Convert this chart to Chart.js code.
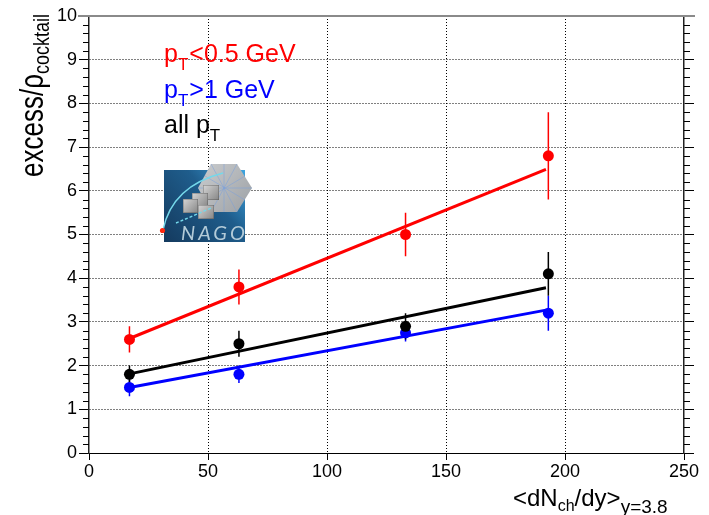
<!DOCTYPE html>
<html>
<head>
<meta charset="utf-8">
<script src="https://cdn.jsdelivr.net/npm/chart.js@4/dist/chart.umd.min.js"></script>
<style>
  html, body { margin: 0; padding: 0; background: #fff; }
  canvas { display: block; }
</style>
</head>
<body>
<canvas id="chart" width="709" height="515"></canvas>
<script>
// Charged-particle multiplicity <dN_ch/dy> of each centrality bin
const multiplicity = [17, 63, 133, 193];

// excess / rho_cocktail and its uncertainty, per pT selection
const excessLowPt  = [2.6, 3.8, 5.0, 6.8];
const errLowPt     = [0.3, 0.4, 0.5, 1.0];
const excessHighPt = [1.5, 1.8, 2.75, 3.2];
const errHighPt    = [0.2, 0.2, 0.2, 0.4];
const excessAllPt  = [1.8, 2.5, 2.9, 4.1];
const errAllPt     = [0.2, 0.3, 0.3, 0.5];

// linear fits, evaluated at both ends of the fitted range
const fitRange   = [17, 192];
const fitLowPt   = [2.62, 6.49];
const fitHighPt  = [1.50, 3.27];
const fitAllPt   = [1.81, 3.78];

// axis ticks
const xTicks = [0, 50, 100, 150, 200, 250];
const yTicks = [0, 1, 2, 3, 4, 5, 6, 7, 8, 9, 10];

const RED = '#ff0000', BLUE = '#0000ff', BLACK = '#000000';
const FONT = "'Liberation Sans', Arial, Helvetica, sans-serif";

const toPoints = (xs, ys) => xs.map((x, i) => ({ x, y: ys[i] }));

function pointSet(label, values, color, order) {
  return {
    type: 'scatter', label, order,
    data: toPoints(multiplicity, values),
    pointRadius: 5.5, pointHoverRadius: 5.5,
    pointBackgroundColor: color, pointBorderWidth: 0,
    showLine: false
  };
}
function fitSet(label, values, color, order) {
  return {
    type: 'line', label, order,
    data: toPoints(fitRange, values),
    borderColor: color, borderWidth: 3,
    pointRadius: 0, tension: 0, fill: false
  };
}

// draws a run of text pieces; each piece may be shifted (subscripts)
function drawRich(ctx, x, y, parts) {
  let cx = x;
  for (const p of parts) {
    ctx.font = p.size + 'px ' + FONT;
    ctx.fillText(p.t, cx, y + (p.dy || 0));
    cx += ctx.measureText(p.t).width + (p.gap || 0);
  }
}

const minorTicks = {
  id: 'minorTicks',
  afterDraw(chart) {
    const { ctx, chartArea: a } = chart;
    const y = chart.scales.y;
    ctx.save();
    ctx.strokeStyle = '#000';
    ctx.lineWidth = 1;
    ctx.beginPath();
    for (let k = 0; k <= 50; k++) {
      if (k % 5 === 0) continue;
      const py = Math.round(y.getPixelForValue(k / 5)) + 0.5;
      ctx.moveTo(a.left - 6, py); ctx.lineTo(a.left, py);
      ctx.moveTo(a.right, py); ctx.lineTo(a.right + 6, py);
    }
    ctx.stroke();
    // upper frame edge
    ctx.strokeStyle = '#8a8a8a';
    ctx.lineWidth = 2;
    ctx.beginPath();
    ctx.moveTo(a.left - 11, a.top);
    ctx.lineTo(a.right + 11, a.top);
    ctx.stroke();
    ctx.restore();
  }
};

const errorBars = {
  id: 'errorBars',
  beforeDatasetsDraw(chart) {
    const { ctx } = chart;
    const xs = chart.scales.x, ys = chart.scales.y;
    const sets = [
      [excessLowPt, errLowPt, RED],
      [excessHighPt, errHighPt, BLUE],
      [excessAllPt, errAllPt, BLACK]
    ];
    ctx.save();
    ctx.lineWidth = 1.5;
    for (const [vals, errs, color] of sets) {
      ctx.strokeStyle = color;
      ctx.beginPath();
      vals.forEach((v, i) => {
        const px = xs.getPixelForValue(multiplicity[i]);
        ctx.moveTo(px, ys.getPixelForValue(v - errs[i]));
        ctx.lineTo(px, ys.getPixelForValue(v + errs[i]));
      });
      ctx.stroke();
    }
    ctx.restore();
  }
};

const logo = {
  id: 'logo',
  beforeDatasetsDraw(chart) {
    const ctx = chart.ctx;
    ctx.save();
    // background tile
    const bg = ctx.createLinearGradient(164, 242, 245, 170);
    bg.addColorStop(0, '#143a5e');
    bg.addColorStop(0.6, '#1f5d8c');
    bg.addColorStop(1, '#3ea6e2');
    ctx.fillStyle = bg;
    ctx.fillRect(164, 170, 81, 72);
    // hexagonal detector
    const hx = ctx.createLinearGradient(200, 165, 250, 211);
    hx.addColorStop(0, '#c9cbcd');
    hx.addColorStop(1, '#9ea2a6');
    ctx.fillStyle = hx;
    ctx.beginPath();
    ctx.moveTo(211, 164); ctx.lineTo(237, 164); ctx.lineTo(252, 188);
    ctx.lineTo(237, 212); ctx.lineTo(211, 212); ctx.lineTo(198, 188);
    ctx.closePath();
    ctx.fill();
    ctx.strokeStyle = 'rgba(120,160,220,0.7)';
    ctx.lineWidth = 0.7;
    ctx.beginPath();
    ctx.moveTo(211, 164); ctx.lineTo(237, 212);
    ctx.moveTo(237, 164); ctx.lineTo(211, 212);
    ctx.moveTo(198, 188); ctx.lineTo(252, 188);
    ctx.moveTo(224, 164); ctx.lineTo(224, 212);
    ctx.moveTo(205, 176); ctx.lineTo(245, 200);
    ctx.moveTo(245, 176); ctx.lineTo(205, 200);
    ctx.stroke();
    // modules
    const squares = [[203, 185, 16, 15], [192, 193, 16, 14], [183, 199, 15, 14], [198, 205, 16, 14]];
    for (const [sx, sy, w, h] of squares) {
      const sg = ctx.createLinearGradient(sx, sy, sx + w, sy + h);
      sg.addColorStop(0, '#d6d6d6');
      sg.addColorStop(1, '#858585');
      ctx.fillStyle = sg;
      ctx.fillRect(sx, sy, w, h);
      ctx.strokeStyle = 'rgba(60,60,60,0.5)';
      ctx.lineWidth = 0.6;
      ctx.strokeRect(sx + 0.3, sy + 0.3, w - 0.6, h - 0.6);
    }
    // particle tracks
    ctx.strokeStyle = '#74d8ea';
    ctx.lineWidth = 1.4;
    ctx.beginPath();
    ctx.moveTo(163, 230);
    ctx.quadraticCurveTo(172, 186, 223, 173);
    ctx.stroke();
    ctx.setLineDash([3, 2]);
    ctx.beginPath();
    ctx.moveTo(176, 223);
    ctx.quadraticCurveTo(193, 216, 211, 208);
    ctx.stroke();
    ctx.setLineDash([]);
    ctx.fillStyle = '#ff2a10';
    ctx.beginPath();
    ctx.arc(162.5, 230.5, 2.6, 0, Math.PI * 2);
    ctx.fill();
    // name
    ctx.fillStyle = '#b3cbd8';
    ctx.font = "italic 20px Lato, " + FONT;
    if ('letterSpacing' in ctx) ctx.letterSpacing = '3px';
    ctx.fillText('NAGO', 181, 240);
    ctx.restore();
  }
};

const labels = {
  id: 'labels',
  afterDraw(chart) {
    const ctx = chart.ctx;
    ctx.save();
    ctx.textAlign = 'left';
    ctx.textBaseline = 'alphabetic';
    // selection labels
    ctx.fillStyle = RED;
    drawRich(ctx, 164, 62, [{ t: 'p', size: 25 }, { t: 'T', size: 17, dy: 8, gap: 1 }, { t: '<0.5 GeV', size: 25 }]);
    ctx.fillStyle = BLUE;
    drawRich(ctx, 164, 98, [{ t: 'p', size: 25 }, { t: 'T', size: 17, dy: 8, gap: 1 }, { t: '>1 GeV', size: 25 }]);
    ctx.fillStyle = BLACK;
    drawRich(ctx, 164, 133, [{ t: 'all p', size: 25 }, { t: 'T', size: 17, dy: 8 }]);
    // x axis title
    drawRich(ctx, 513, 506, [
      { t: '<dN', size: 24 }, { t: 'ch', size: 16, dy: 5 },
      { t: '/dy>', size: 24 }, { t: 'y=3.8', size: 19, dy: 7 }
    ]);
    // y axis title
    ctx.translate(43, 177);
    ctx.rotate(-Math.PI / 2);
    ctx.scale(1, 1.25);
    drawRich(ctx, 0, 0, [{ t: 'excess/\u03c1', size: 26 }, { t: 'cocktail', size: 18, dy: 5 }]);
    ctx.restore();
  }
};

const edge = (v, lo, hi) => v === lo || v === hi;

new Chart(document.getElementById('chart'), {
  type: 'scatter',
  data: {
    datasets: [
      fitSet('fit pT<0.5 GeV', fitLowPt, RED, 5),
      fitSet('fit pT>1 GeV', fitHighPt, BLUE, 4),
      fitSet('fit all pT', fitAllPt, BLACK, 3),
      pointSet('pT<0.5 GeV', excessLowPt, RED, 2),
      pointSet('pT>1 GeV', excessHighPt, BLUE, 1),
      pointSet('all pT', excessAllPt, BLACK, 0)
    ]
  },
  options: {
    responsive: false,
    animation: false,
    layout: { padding: { top: 16, left: 0, right: 0, bottom: 0 } },
    plugins: { legend: { display: false }, tooltip: { enabled: false } },
    scales: {
      x: {
        type: 'linear', position: 'bottom', min: 0, max: 250,
        afterBuildTicks: s => { s.ticks = xTicks.map(v => ({ value: v })); },
        afterFit: s => { s.height = 62; },
        ticks: { color: '#000', font: { family: FONT, size: 18 }, padding: 1, maxRotation: 0, autoSkip: false },
        grid: {
          color: c => edge(c.tick && c.tick.value, 0, 250) ? 'rgba(0,0,0,0)' : '#000',
          lineWidth: 1, tickColor: '#000', tickLength: 7, tickWidth: 1
        },
        border: { color: '#000', width: 1, dash: [1, 2] }
      },
      y: {
        type: 'linear', position: 'left', min: 0, max: 10,
        afterBuildTicks: s => { s.ticks = yTicks.map(v => ({ value: v })); },
        afterFit: s => { s.width = 89; },
        ticks: { color: '#000', font: { family: FONT, size: 18 }, padding: 2 },
        grid: {
          color: c => edge(c.tick && c.tick.value, 0, 10) ? 'rgba(0,0,0,0)' : '#000',
          lineWidth: 1, tickColor: '#000', tickLength: 10, tickWidth: 1
        },
        border: { color: '#222', width: 1.5, dash: [1, 2] }
      },
      y2: {
        type: 'linear', position: 'right', min: 0, max: 10,
        afterBuildTicks: s => { s.ticks = yTicks.map(v => ({ value: v })); },
        afterFit: s => { s.width = 25; },
        ticks: { display: false },
        grid: { drawOnChartArea: false, tickColor: '#000', tickLength: 10, tickWidth: 1 },
        border: { color: '#222', width: 1.5 }
      }
    }
  },
  plugins: [logo, errorBars, minorTicks, labels]
});
</script>
</body>
</html>
